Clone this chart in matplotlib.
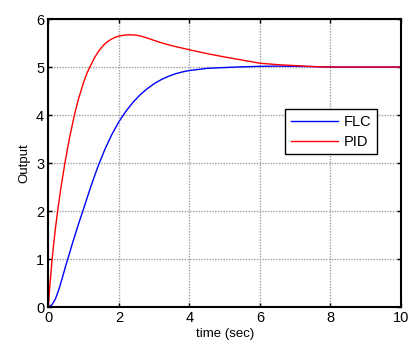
import matplotlib
matplotlib.use("Agg")
import matplotlib.pyplot as plt

plt.rcParams['font.family'] = ['Liberation Sans', 'DejaVu Sans']

# time samples (sec) and responses
t_flc = [0, 0.1, 0.2, 0.3, 0.4, 0.5, 0.55, 0.6, 0.7, 0.8, 0.9, 1.0, 1.2, 1.4, 1.6, 1.8,
         2.0, 2.2, 2.4, 2.6, 2.8, 3.0, 3.2, 3.4, 3.6, 3.8, 4.0, 4.5, 5.0, 5.5, 6.0,
         6.5, 7.0, 7.5, 8.0, 9.0, 10.0]
flc = [0, 0.05, 0.17, 0.37, 0.62, 0.88, 1.0, 1.12, 1.37, 1.6, 1.83, 2.05, 2.5, 2.915, 3.28, 3.595,
       3.86, 4.08, 4.265, 4.42, 4.548, 4.653, 4.738, 4.806, 4.859, 4.899, 4.928, 4.973, 4.99, 5.005, 5.015,
       5.02, 5.015, 5.01, 5.0, 5.0, 5.0]

t_pid = [0, 0.05, 0.1, 0.15, 0.2, 0.27, 0.35, 0.47, 0.6, 0.74, 0.85, 1.0, 1.1, 1.18,
         1.3, 1.4, 1.5, 1.6, 1.7, 1.8, 1.9, 2.0, 2.15, 2.3, 2.45, 2.6, 2.8, 3.0, 3.25, 3.5,
         4.0, 4.5, 5.0, 5.5, 6.0, 6.5, 7.0, 7.5, 8.0, 9.0, 10.0]
pid = [0, 0.5, 0.93, 1.3, 1.63, 2.03, 2.45, 3.0, 3.52, 4.0, 4.32, 4.68, 4.88, 5.0,
       5.18, 5.3, 5.4, 5.48, 5.54, 5.585, 5.62, 5.645, 5.665, 5.672, 5.667, 5.65, 5.605, 5.555, 5.495, 5.445,
       5.36, 5.28, 5.21, 5.145, 5.08, 5.05, 5.03, 5.01, 5.0, 5.0, 5.0]

labels = ["FLC", "PID"]
xticks = [0, 2, 4, 6, 8, 10]
yticks = [0, 1, 2, 3, 4, 5, 6]

fig = plt.figure(figsize=(4.11, 3.47), dpi=100)
ax = fig.add_axes([0.1175, 0.1144, 0.8582, 0.8308])

ax.plot(t_flc, flc, color='#0000ff', lw=1.0, label=labels[0])
ax.plot(t_pid, pid, color='#ff0000', lw=1.0, label=labels[1])

ax.set_xlim(0, 10)
ax.set_ylim(0, 6)
ax.set_xticks(xticks)
ax.set_yticks(yticks)
ax.tick_params(direction='in', length=3, width=1, top=True, right=True,
               labelsize=10.5, pad=3, color='black')
ax.grid(True, color='#a0a0a0', lw=1.0, linestyle=(0, (1, 1)))
for s in ax.spines.values():
    s.set_linewidth(1.5)
    s.set_color('black')

ax.set_xlabel('time (sec)', fontsize=9.5, labelpad=2)
ax.set_ylabel('Output', fontsize=9.5, labelpad=4)

leg = ax.legend(loc='upper right', bbox_to_anchor=(0.932, 0.688), fontsize=10.5,
                handlelength=3.2, fancybox=False, framealpha=1, edgecolor='black',
                borderpad=0.4, labelspacing=0.4, handletextpad=0.4, borderaxespad=0)
leg.get_frame().set_linewidth(1.0)

fig.savefig('out.png', dpi=100)
